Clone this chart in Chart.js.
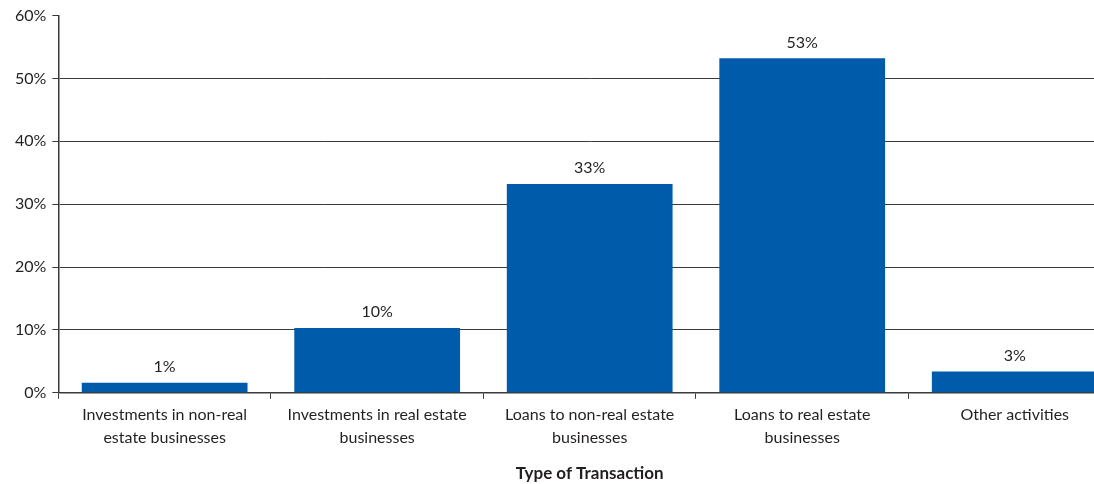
<!DOCTYPE html>
<html>
<head>
<meta charset="utf-8">
<script src="https://cdn.jsdelivr.net/npm/chart.js@4"></script>
<style>
  html, body { margin: 0; padding: 0; background: #fff; overflow: hidden; }
  #wrap { position: relative; width: 1126px; height: 484px; }
</style>
</head>
<body>
<div id="wrap"><canvas id="chart"></canvas></div>
<script>
// Transaction types and their shares
const categories = [
    ['Investments in non-real', 'estate businesses'],
    ['Investments in real estate', 'businesses'],
    ['Loans to non-real estate', 'businesses'],
    ['Loans to real estate', 'businesses'],
    'Other activities'
];
const shares = [1.6, 10.3, 33.2, 53.2, 3.4];
const shareLabels = ['1%', '10%', '33%', '53%', '3%'];
const yTicks = [0, 10, 20, 30, 40, 50, 60];

const textColor = '#231f20';
const lineColor = '#3a3a3a';
const fontFamily = 'Lato, "Open Sans", sans-serif';

// Draw value labels above bars
const barLabels = {
    id: 'barLabels',
    afterDatasetsDraw(chart) {
        const { ctx } = chart;
        const meta = chart.getDatasetMeta(0);
        ctx.save();
        ctx.font = '16px ' + fontFamily;
        ctx.fillStyle = textColor;
        ctx.textAlign = 'center';
        ctx.textBaseline = 'bottom';
        meta.data.forEach((bar, i) => {
            ctx.fillText(shareLabels[i], bar.x, bar.y - 8);
        });
        ctx.restore();
    }
};

new Chart(document.getElementById('chart'), {
    type: 'bar',
    data: {
        labels: categories,
        datasets: [{
            data: shares,
            backgroundColor: '#005baa',
            borderWidth: 0,
            categoryPercentage: 1,
            barPercentage: 0.78
        }]
    },
    options: {
        responsive: true,
        maintainAspectRatio: false,
        animation: false,
        layout: { padding: { top: 12, right: 5, left: 9, bottom: 0 } },
        plugins: {
            legend: { display: false },
            tooltip: { enabled: false }
        },
        scales: {
            y: {
                min: 0,
                max: 60,
                afterBuildTicks: axis => { axis.ticks = yTicks.map(v => ({ value: v })); },
                ticks: {
                    color: textColor,
                    font: { family: fontFamily, size: 16 },
                    padding: 6,
                    callback: v => v + '%'
                },
                grid: {
                    color: ctx => ctx.tick && ctx.tick.value === 60 ? 'rgba(0,0,0,0)' : lineColor,
                    tickColor: lineColor,
                    tickLength: 6,
                    lineWidth: 1
                },
                border: { color: lineColor, width: 1.5 }
            },
            x: {
                ticks: {
                    color: textColor,
                    font: { family: fontFamily, size: 16, lineHeight: 1.4 },
                    padding: 5,
                    maxRotation: 0,
                    autoSkip: false
                },
                grid: {
                    offset: true,
                    drawOnChartArea: false,
                    tickColor: lineColor,
                    tickLength: 6
                },
                border: { color: lineColor, width: 1.5 },
                title: {
                    display: true,
                    text: 'Type of Transaction',
                    color: textColor,
                    font: { family: fontFamily, size: 17, weight: 'bold' },
                    padding: { top: 10, bottom: 0 }
                }
            }
        }
    },
    plugins: [barLabels]
});
</script>
</body>
</html>
